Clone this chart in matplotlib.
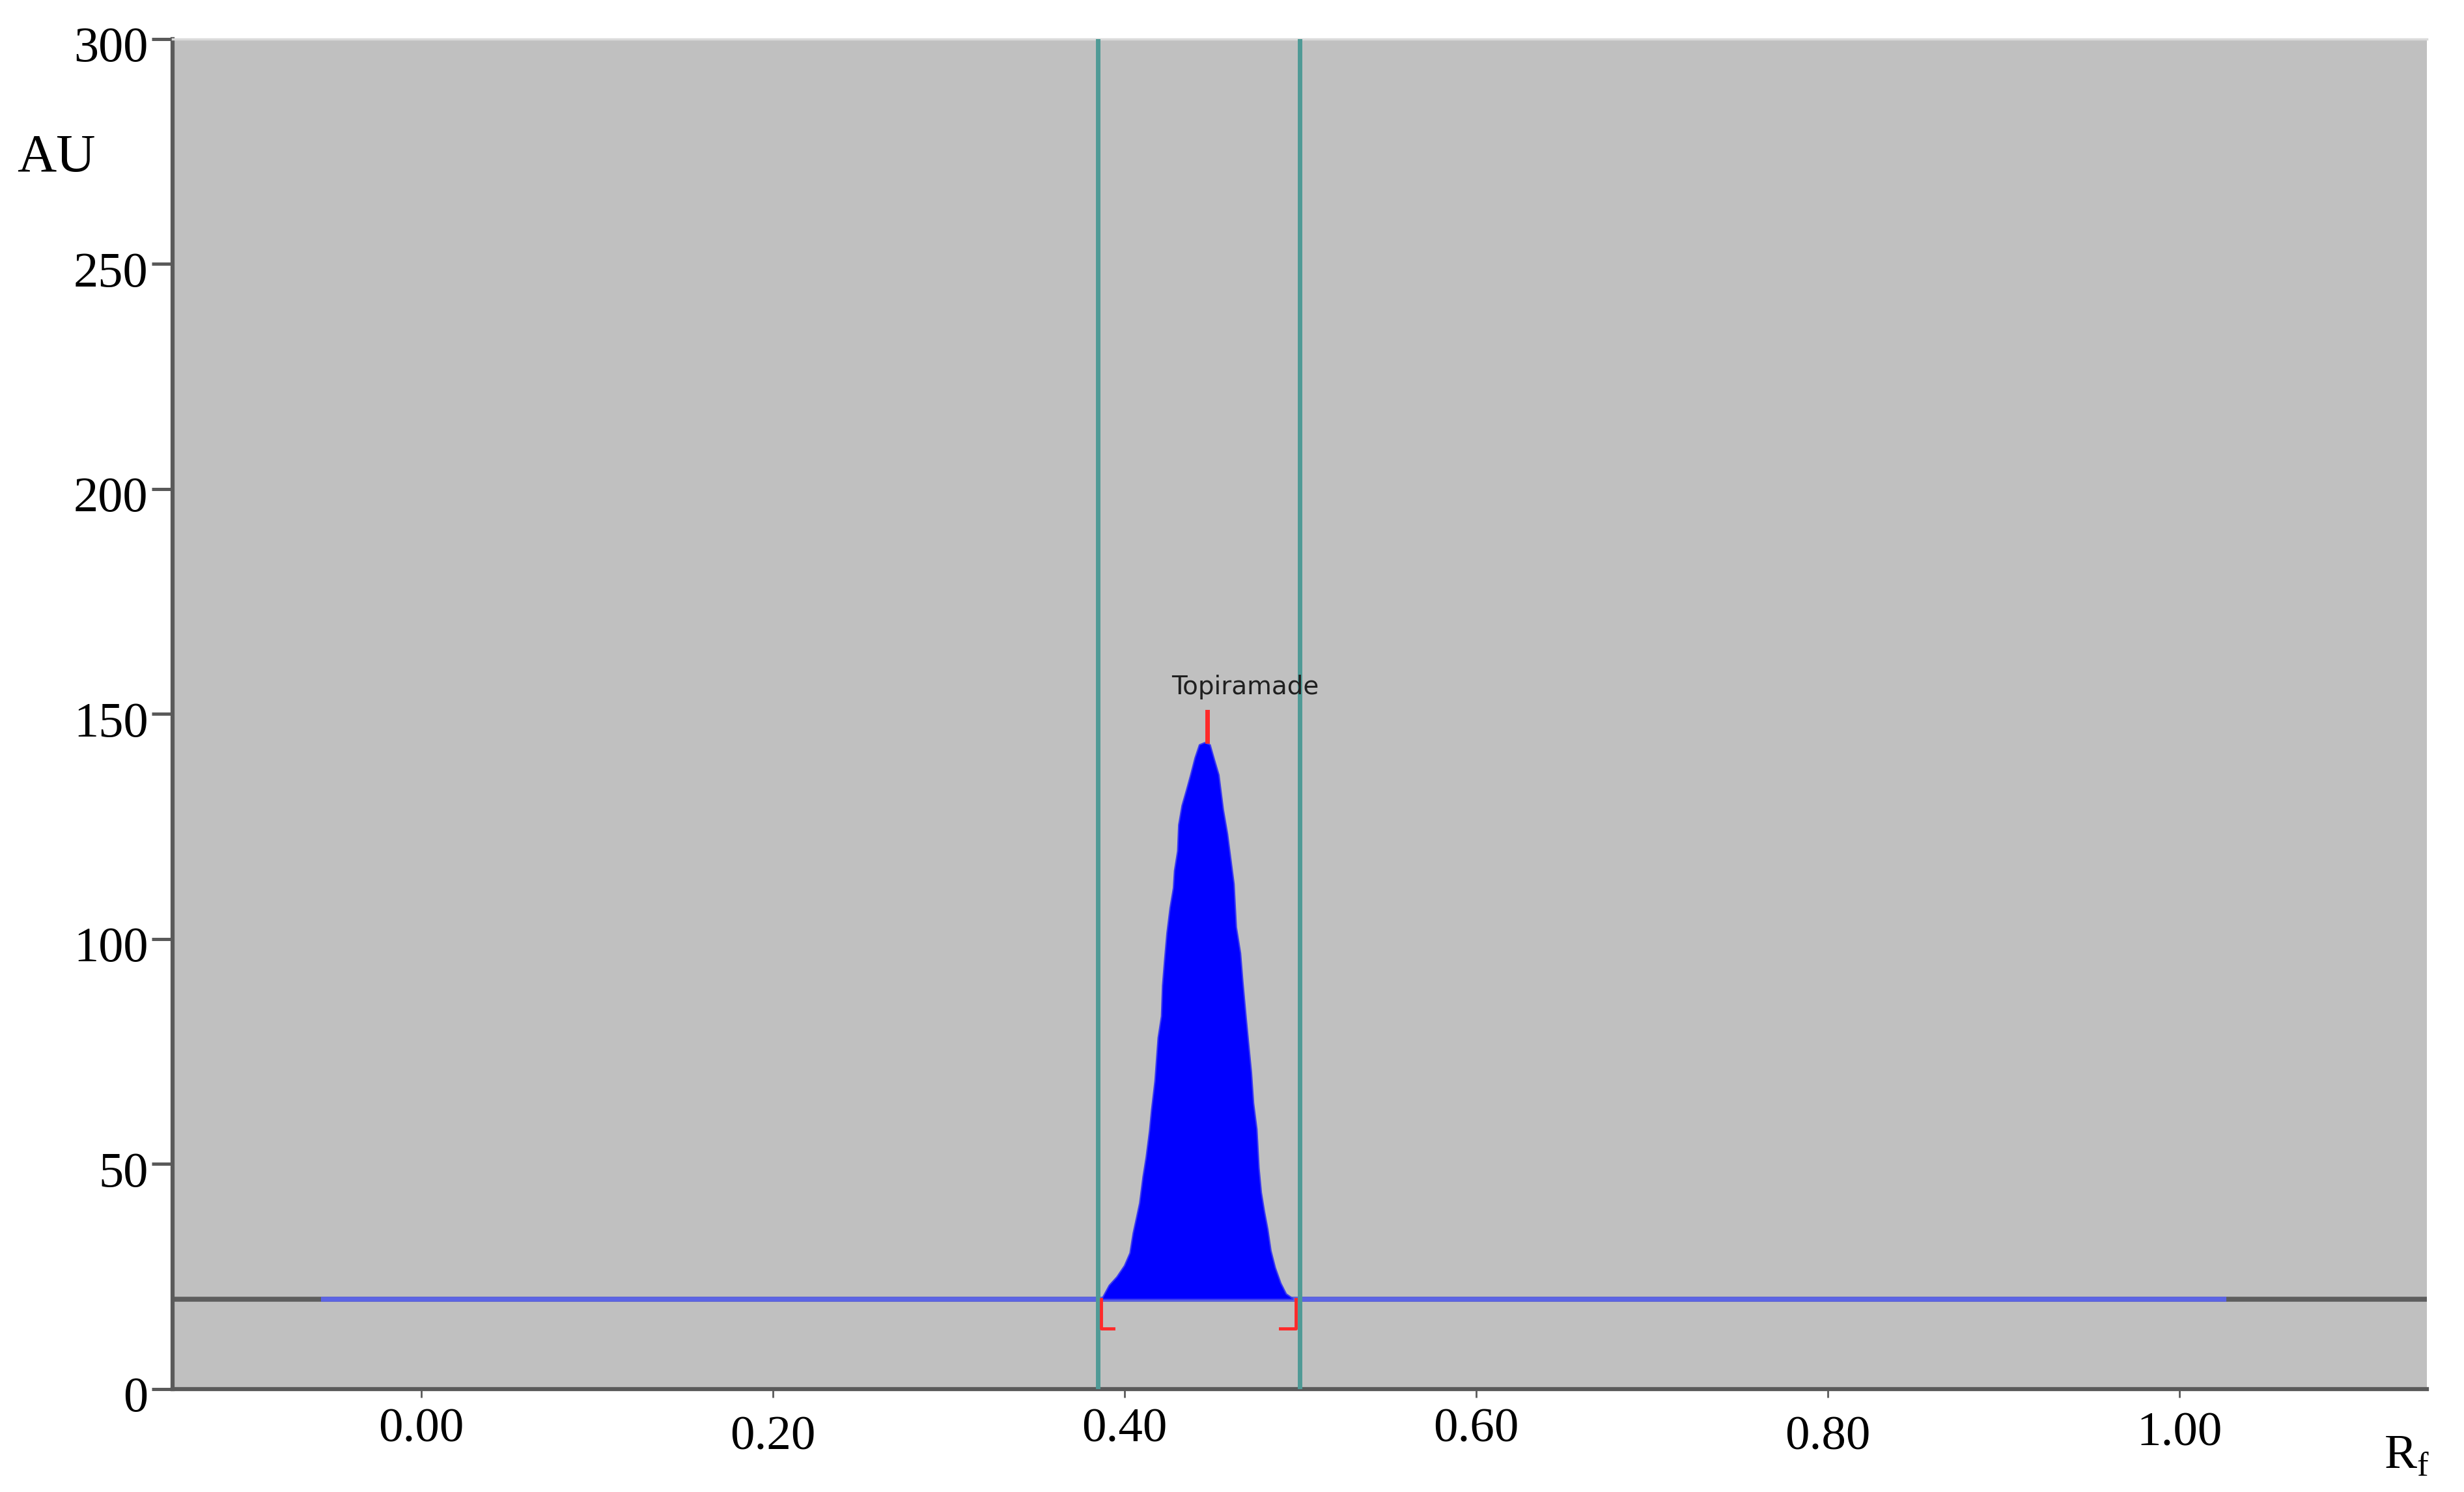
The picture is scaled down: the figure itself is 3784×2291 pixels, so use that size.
import numpy as np
import matplotlib
matplotlib.use("Agg")
import matplotlib.pyplot as plt
from matplotlib.transforms import ScaledTranslation

# HPTLC densitogram of topiramate
baseline_au = 20.0
baseline_blue = (-0.057, 1.027)          # Rf range of the integrated baseline
window_rf = [0.3848, 0.4996]             # teal window lines
peak_rf = [0.3869, 0.3912, 0.3956, 0.3999, 0.4030, 0.4048, 0.4067, 0.4085,
           0.4104, 0.4122, 0.4141, 0.4153, 0.4172, 0.4190, 0.4209, 0.4215,
           0.4227, 0.4240, 0.4258, 0.4277, 0.4283, 0.4301, 0.4307, 0.4326,
           0.4351, 0.4375, 0.4400, 0.4425, 0.4456, 0.4486, 0.4511, 0.4536,
           0.4561, 0.4585, 0.4604, 0.4622, 0.4635, 0.4659, 0.4672, 0.4690,
           0.4703, 0.4721, 0.4733, 0.4752, 0.4764, 0.4777, 0.4795, 0.4814,
           0.4832, 0.4857, 0.4888, 0.4919, 0.4956]
peak_au = [20.0, 23.1, 25.0, 27.5, 30.3, 34.7, 38.1, 41.4,
           47.2, 51.6, 57.4, 62.2, 68.5, 78.1, 82.9, 89.7,
           95.5, 101.3, 107.0, 111.4, 115.2, 119.6, 125.4, 129.7,
           133.1, 136.5, 140.3, 143.2, 143.7, 143.2, 139.8, 136.5,
           128.8, 123.4, 117.7, 112.3, 102.7, 96.9, 90.6, 82.9,
           77.6, 70.4, 63.6, 57.8, 49.2, 43.8, 39.5, 35.6,
           30.8, 27.0, 23.6, 21.2, 20.2]
peak_name = "Topiramade"
peak_start, peak_end = 0.3866, 0.4974
peak_max_rf, peak_max_au = 0.4470, 144.0

x_ticks = [0.0, 0.2, 0.4, 0.6, 0.8, 1.0]
x_labels = ["0.00", "0.20", "0.40", "0.60", "0.80", "1.00"]
y_ticks = [0, 50, 100, 150, 200, 250, 300]

# the scanner software staggers some x labels a little (pixels downward)
x_label_drop = [0, 12, 0, 0, 12, 6]

serif = ["Liberation Serif", "DejaVu Serif"]
plt.rcParams["mathtext.fontset"] = "custom"
plt.rcParams["mathtext.rm"] = "Liberation Serif"

fig = plt.figure(figsize=(37.84, 22.91), dpi=100)
ax = fig.add_axes([0.070, 0.069, 0.915, 0.905])
ax.set_facecolor("#c0c0c0")
ax.set_xlim(-0.1415, 1.141)
ax.set_ylim(0, 300)

# baseline: dark gray full width, blue where integrated
ax.axhline(baseline_au, color="#5e5e5e", lw=5.5, zorder=2)
ax.plot(baseline_blue, [baseline_au, baseline_au], color="#5c64e4", lw=5.5, zorder=3,
        solid_capstyle="butt")

# the peak
ax.fill_between(peak_rf, baseline_au, peak_au, color="#0000ff", lw=1.5,
                edgecolor="#3a3af0", zorder=4)

# integration window
for xv in window_rf:
    ax.axvline(xv, color="#4f9a96", lw=5, zorder=5)

# red start/end brackets and peak marker
red = "#ff2a2a"
ax.plot([peak_start, peak_start, peak_start + 0.0072],
        [baseline_au, 13.5, 13.5], color=red, lw=3.5, zorder=6)
ax.plot([peak_end, peak_end, peak_end - 0.0086],
        [baseline_au, 13.5, 13.5], color=red, lw=3.5, zorder=6)
ax.plot([peak_max_rf, peak_max_rf], [peak_max_au, 150.5], color=red, lw=5, zorder=6)
ax.text(0.4689, 154.4, peak_name, ha="center", va="baseline", fontsize=28,
        family="DejaVu Sans", color="#202020", zorder=7)

# axes styling
for side in ["left", "bottom"]:
    ax.spines[side].set_color("#5a5a5a")
    ax.spines[side].set_linewidth(4.5)
ax.spines["top"].set_color("#dadada")
ax.spines["top"].set_linewidth(2.5)
ax.spines["right"].set_visible(False)

ax.set_xticks(x_ticks)
ax.set_xticklabels(x_labels)
ax.set_yticks(y_ticks)
ax.tick_params(axis="y", direction="out", length=23, width=3.6, color="#5a5a5a",
               pad=4, labelsize=55)
ax.tick_params(axis="x", direction="out", length=9, width=2, color="#5a5a5a",
               pad=12, labelsize=54)
for lab, drop in zip(ax.get_xticklabels(), x_label_drop):
    lab.set_family(serif)
    lab.set_transform(lab.get_transform() + ScaledTranslation(0, -drop / 100, fig.dpi_scale_trans))
for lab in ax.get_yticklabels():
    lab.set_family(serif)
    lab.set_transform(lab.get_transform() + ScaledTranslation(0, -8 / 100, fig.dpi_scale_trans))

fig.text(0.007, 0.894, "AU", family=serif, fontsize=60, va="center", ha="left")
fig.text(0.9675, 0.0157, r"R$_{\rm f}$", family=serif, fontsize=54, va="baseline", ha="left")

fig.savefig("out.png", dpi=100, facecolor="white")
